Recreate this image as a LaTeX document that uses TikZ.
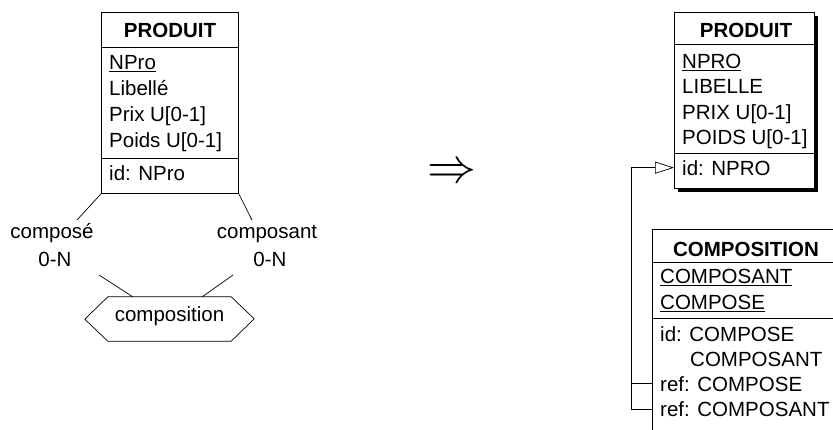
\documentclass[tikz,border=0pt]{standalone}
\usepackage{fontspec}
\setmainfont{Liberation Sans}
\usetikzlibrary{calc,arrows.meta}
\newcommand{\keyattr}[1]{\vtop{\hbox{#1}\kern1.6pt\hrule height 1.1pt}}

\begin{document}
\begin{tikzpicture}[x=1pt,y=-1pt,
	txt/.style={font=\fontsize{20.5}{25.7}\selectfont, inner sep=0pt, anchor=base west},
	ttl/.style={txt, font=\fontsize{20.5}{25.7}\selectfont\bfseries, anchor=base},
	ent/.style={draw, line width=0.8pt, fill=white, anchor=north west, inner sep=0pt},
	shade/.style={fill=black, anchor=north west, inner sep=0pt},
	link/.style={line width=0.7pt},
	fk/.style={link, -{Triangle[open,length=19,width=12]}}]
		\fill[white] (0,0) rectangle (833,429);
		\useasboundingbox (0,0) rectangle (833,429);
		\clip (0,0) rectangle (833,429);
		% Conceptual schema
		\node[ent, minimum width=137, minimum height=181] (prodA) at (101,12) {};
		\draw[link] (prodA.west |- 0,47) -- (prodA.east |- 0,47);
		\draw[link] (prodA.west |- 0,158) -- (prodA.east |- 0,158);
		\node[ttl] (prodATitle) at (170,37) {PRODUIT};
		\node[txt] (nproA) at (109,69) {\keyattr{NPro}};
		\node[txt] (libelleA) at (109,95) {Libellé};
		\node[txt] (prixA) at (109,121) {Prix U[0-1]};
		\node[txt] (poidsA) at (109,147) {Poids U[0-1]};
		\node[txt] (idA) at (109,180) {id: NPro};
		% Relationship
		\node[txt, anchor=center, minimum width=123, minimum height=44, text height=10, text depth=4.6] (compo) at (169.5,319) {composition};
		\draw[link] (compo.north west) -- (compo.north east) -- ++(23,22) -- (compo.south east) -- (compo.south west) -- ++(-23,-22) -- cycle;
		\node[txt, anchor=base] (composeRole) at (52,238) {composé};
		\node[txt, anchor=base] (composeCard) at (55,266) {0-N};
		\node[txt, anchor=base] (composantRole) at (267,238) {composant};
		\node[txt, anchor=base] (composantCard) at (270,266) {0-N};
		\coordinate (composeUp) at (77,220);
		\coordinate (composeDn) at (99,275);
		\coordinate (composantUp) at (252,220);
		\coordinate (composantDn) at (233,275);
		\draw[link] (prodA.south west) -- (composeUp);
		\draw[link] (composeDn) -- ($(compo.north west)+(25,0)$);
		\draw[link] (prodA.south east) -- (composantUp);
		\draw[link] (composantDn) -- ($(compo.north east)+(-29,0)$);
		% Transformation
		\node[scale=4.9] (implies) at (452,173.5) {$\Rightarrow$};
		% Logical schema
		\node[shade, minimum width=140, minimum height=176] at (678,16) {};
		\node[ent, minimum width=140, minimum height=176] (prodB) at (674,12) {};
		\draw[link] (prodB.west |- 0,44) -- (prodB.east |- 0,44);
		\draw[link] (prodB.west |- 0,153) -- (prodB.east |- 0,153);
		\node[ttl] (prodBTitle) at (746,37) {PRODUIT};
		\node[txt] (nproB) at (682,68) {\keyattr{NPRO}};
		\node[txt] (libelleB) at (682,93.5) {LIBELLE};
		\node[txt] (prixB) at (682,119) {PRIX U[0-1]};
		\node[txt] (poidsB) at (682,144.5) {POIDS U[0-1]};
		\node[txt] (idB) at (682,175) {id: NPRO};
		\node[shade, minimum width=188, minimum height=250] at (656,233) {};
		\node[ent, minimum width=188, minimum height=250] (compoR) at (652,229) {};
		\draw[link] (compoR.west |- 0,262) -- (compoR.east |- 0,262);
		\draw[link] (compoR.west |- 0,318) -- (compoR.east |- 0,318);
		\node[ttl] (compoRTitle) at (746,256) {COMPOSITION};
		\node[txt] (composantKey) at (660,283) {\keyattr{COMPOSANT}};
		\node[txt] (composeKey) at (660,309) {\keyattr{COMPOSE}};
		\node[txt] (idCompose) at (660,341) {id: COMPOSE};
		\node[txt] (idComposant) at (690,366) {COMPOSANT};
		\node[txt] (refCompose) at (660,391) {ref: COMPOSE};
		\node[txt] (refComposant) at (660,416.5) {ref: COMPOSANT};
		% Foreign keys
		\coordinate (rail) at (631,0);
		\draw[fk] (refComposant.west -| compoR.west) -| (rail |- idB.west) -- (idB.west -| prodB.west);
		\draw[link] (refCompose.west -| compoR.west) -- (refCompose.west -| rail);
	\end{tikzpicture}
\end{document}
